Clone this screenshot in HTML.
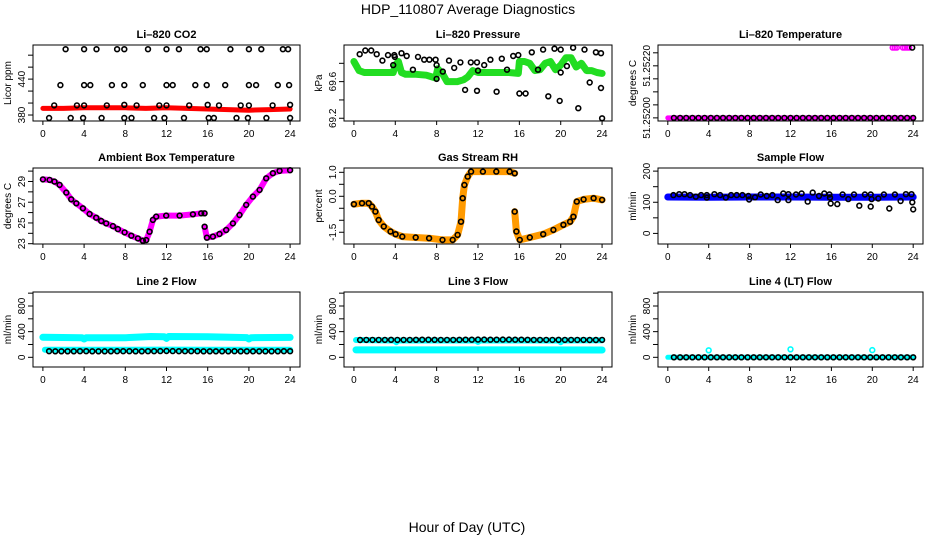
<!DOCTYPE html>
<html><head><meta charset="utf-8"><title>HDP_110807 Average Diagnostics</title>
<style>
html,body{margin:0;padding:0;background:#fff;}
svg{display:block;font-family:"Liberation Sans",sans-serif;}
</style></head>
<body>
<svg id="chart" width="936" height="540" viewBox="0 0 936 540" xmlns="http://www.w3.org/2000/svg">
<text x="468" y="14" text-anchor="middle" font-size="14">HDP_110807  Average Diagnostics</text>
<text x="467" y="532" text-anchor="middle" font-size="14">Hour of Day (UTC)</text>
</svg>
<script>
// ---------- Data ----------
const xTicks = [0,4,8,12,16,20,24];
const xTickLabels = ["0","4","8","12","16","20","24"];

// Panel 1: CO2
const co2BandHours = [0,2,4,6,8,10,12,14,16,18,20,22,24];
const co2BandVals  = [391,391,392,392,392,391,392,391,390,389,388,389,390];
const co2PtHours = [2.2,4.0,5.2,7.2,7.9,10.2,12.0,13.2,15.3,15.9,18.2,20.0,21.2,23.3,23.8,
  1.7,4.0,4.6,6.7,7.9,9.7,12.0,12.6,14.8,15.9,17.7,20.0,20.7,22.8,23.9,
  1.1,3.3,4.0,6.2,7.9,9.1,11.3,12.0,14.2,16.0,17.1,19.2,20.0,22.3,24.0,
  0.6,2.7,3.9,5.7,7.9,8.6,10.8,11.8,13.7,16.1,16.6,18.8,19.9,21.7,24.0];
const co2PtVals = [490,490,490,490,490,490,490,490,490,490,490,490,490,490,490,
  430,430,430,430,430,430,430,430,430,430,430,430,430,430,430,
  396,396,396,396,397,396,396,396,396,397,396,396,396,396,397,
  375,375,375,375,375,375,375,375,375,375,375,375,375,375,375];
const co2Ticks = [380,400,420,440,460,480];
const co2TickLabels = ["380","","","440","",""];

// Panel 2: Pressure
const presBandHours = [0,0.5,1,2,3,3.8,4.0,4.3,4.6,5,6,7,7.9,8.1,8.6,9,10,10.6,11,11.5,12,13,14,15,15.9,16,16.5,17,17.5,18,18.5,19,19.5,20,20.5,21,21.5,22,22.5,23,23.5,24];
const presBandVals = [69.82,69.72,69.70,69.70,69.70,69.70,69.78,69.82,69.70,69.68,69.68,69.67,69.64,69.74,69.68,69.60,69.60,69.62,69.65,69.72,69.70,69.70,69.70,69.70,69.69,69.82,69.82,69.80,69.72,69.73,69.80,69.82,69.73,69.78,69.86,69.86,69.76,69.80,69.72,69.72,69.70,69.69];
const presPtHours = [0.56,1.1,1.67,2.2,2.75,3.3,3.9,3.95,3.8,4.6,5.1,5.7,6.2,6.8,7.3,7.9,8.0,8.0,8.6,9.2,9.7,10.3,10.75,11.3,11.9,11.9,12.0,12.6,13.2,13.8,14.3,14.8,15.4,15.9,16.0,16.6,17.2,17.8,18.3,18.8,19.4,20.0,20.0,19.9,20.6,21.2,21.7,22.3,22.8,23.4,23.9,23.9,24.0];
const presPtVals = [69.90,69.94,69.94,69.90,69.83,69.89,69.89,69.87,69.78,69.91,69.88,69.73,69.87,69.84,69.84,69.84,69.78,69.63,69.71,69.83,69.75,69.81,69.51,69.81,69.81,69.50,69.72,69.78,69.84,69.49,69.85,69.73,69.88,69.89,69.47,69.47,69.92,69.73,69.95,69.44,69.96,69.95,69.70,69.39,69.77,69.97,69.31,69.95,69.59,69.92,69.91,69.53,69.20];
const presTicks = [69.2,69.4,69.6,69.8];
const presTickLabels = ["69.2","","69.6",""];

// Panel 3: Li-820 temperature
const ltBandHours = [0,24];
const ltBandVals = [51.252,51.252];
const ltTopHours = [22.0,22.2,22.4,23.0,23.2,23.4,23.6];
const ltTopVals = [51.25227,51.25227,51.25227,51.25227,51.25227,51.25227,51.25227];
const rowHours = [0.6,1.2,1.8,2.4,3.0,3.6,4.2,4.8,5.4,6.0,6.6,7.2,7.8,8.4,9.0,9.6,10.2,10.8,11.4,12.0,12.6,13.2,13.8,14.4,15.0,15.6,16.2,16.8,17.4,18.0,18.6,19.2,19.8,20.4,21.0,21.6,22.2,22.8,23.4,24.0];
const ltBlackVals = [51.252,51.252,51.252,51.252,51.252,51.252,51.252,51.252,51.252,51.252,51.252,51.252,51.252,51.252,51.252,51.252,51.252,51.252,51.252,51.252,51.252,51.252,51.252,51.252,51.252,51.252,51.252,51.252,51.252,51.252,51.252,51.252,51.252,51.252,51.252,51.252,51.252,51.252,51.252,51.252];
const ltExtraHours = [23.9];
const ltExtraVals = [51.25227];
const ltTicks = [51.25200,51.25205,51.25210,51.25215,51.25220,51.25225];
const ltTickLabels = ["51.25200","","","","51.25220",""];

// Panel 4: Ambient box temperature (null = gap)
const ambHours = [0,0.65,1.13,1.62,2.27,2.75,3.24,3.88,4.53,5.18,5.66,6.15,6.8,7.28,7.93,8.58,9.22,9.71,10.03,10.36,10.68,11.0,11.97,13.27,14.56,15.37,15.7,null,15.7,15.92,16.5,17.15,17.8,18.45,19.09,19.74,20.39,21.04,21.68,22.33,22.98,24.0];
const ambVals = [29.2,29.15,28.99,28.67,27.93,27.28,26.9,26.41,25.86,25.51,25.19,24.96,24.7,24.41,24.09,23.77,23.51,23.29,23.35,24.16,25.29,25.61,25.71,25.71,25.83,25.93,25.93,null,24.64,23.58,23.68,23.93,24.32,24.96,25.77,26.74,27.54,28.19,29.31,29.8,30.02,30.09];
const ambTicks = [23,24,25,26,27,28,29,30];
const ambTickLabels = ["23","","25","","27","","29",""];

// Panel 5: Gas stream RH
const rhHours = [0,0.78,1.43,1.75,2.08,2.4,2.89,3.54,4.03,4.68,5.97,7.27,8.57,9.55,10.03,10.36,10.52,10.68,11.0,11.33,12.47,13.77,15.06,15.55,null,15.55,15.71,16.04,17.01,18.31,19.29,20.26,20.91,21.23,21.56,22.21,23.18,24.0];
const rhVals = [-0.33,-0.29,-0.29,-0.43,-0.64,-0.99,-1.26,-1.47,-1.58,-1.68,-1.72,-1.75,-1.82,-1.82,-1.61,-1.06,-0.08,0.47,0.82,1.03,1.03,1.03,1.03,0.96,null,-0.64,-1.47,-1.82,-1.72,-1.58,-1.40,-1.19,-1.06,-0.85,-0.22,-0.13,-0.08,-0.15];
const rhTicks = [-1.5,-1.0,-0.5,0.0,0.5,1.0];
const rhTickLabels = ["-1.5","","","0.0","","1.0"];

// Panel 6: Sample flow
const sfBandHours = [0,4,8,12,16,20,24];
const sfBandVals = [117,116,117,117,116,116,117];
const sfPtHours = [0.55,1.11,1.63,2.18,2.74,3.26,3.81,3.81,4.56,5.11,5.67,6.19,6.74,7.3,7.88,7.95,8.53,9.09,9.67,10.23,10.75,11.3,11.79,11.79,12.54,13.09,13.68,14.17,14.79,15.31,15.8,15.86,15.93,16.58,17.1,17.65,18.21,18.73,19.28,19.84,19.84,19.93,20.59,21.14,21.66,22.21,22.77,23.29,23.84,23.91,24.0];
const sfPtVals = [123,126,126,123,118,123,123,115,126,123,115,123,123,123,120,109,116,125,120,123,107,128,126,107,125,128,102,131,120,128,125,115,96,94,125,110,125,89,125,125,86,110,112,125,80,125,104,126,126,100,77];
const sfTicks = [0,50,100,150,200];
const sfTickLabels = ["0","","100","","200"];

// Row 3: Line flows
const flowTicks = [0,200,400,600,800,1000];
const flowTickLabels = ["0","","400","","800",""];
const l2TopHours = [0,3.8,4,4.2,8,10.5,11.8,12,12.2,16,19.8,20,20.2,24];
const l2TopVals = [312,305,285,305,305,325,320,295,325,320,308,285,305,310];
const l2LowHours = [0.2,8,12,16,24];
const l2LowVals = [118,118,120,118,117];
const l2Black = [95,94,94,93,94,95,96,94,93,94,94,95,95,96,94,94,95,96,97,98,97,96,96,95,95,94,94,93,94,94,95,94,94,93,94,94,93,94,95,96];
const l3TopHours = [0.2,3.9,4.1,4.3,11.8,12,12.2,19.8,20,20.2,24];
const l3TopVals = [270,262,235,262,262,240,262,262,235,262,265];
const l3LowHours = [0.2,8,12,16,24];
const l3LowVals = [115,116,115,115,114];
const l3Black = [270,271,272,271,272,273,272,271,272,273,274,274,273,272,271,272,273,274,275,276,276,275,275,276,276,275,274,273,272,272,271,272,273,272,271,272,271,270,270,271];
const l4BandHours = [0,24];
const l4BandVals = [0,0];
const l4CircHours = [4,12,20];
const l4CircVals = [110,125,112];
const l4Black = [0,0,0,0,0,0,0,0,0,0,0,0,0,0,0,0,0,0,0,0,0,0,0,0,0,0,0,0,0,0,0,0,0,0,0,0,0,0,0,0];

// ---------- Layout ----------
const NS = "http://www.w3.org/2000/svg";
const svg = document.getElementById('chart');
const cols = [[33,300],[344,612],[658,923]];
const rows = [[45,121],[168,244],[292,367]];

function mk(tag, attrs, parent){
  const e = document.createElementNS(NS, tag);
  for (const k in attrs) e.setAttribute(k, attrs[k]);
  (parent||svg).appendChild(e);
  return e;
}

function panel(ci, ri, cfg){
  const [x0,x1] = cols[ci], [y0,y1] = rows[ri];
  const g = mk('g', {});
  
  
  const w = x1-x0;
  const pad = w*0.04/1.08;
  const xs = h => x0 + pad + (h/24)*(w-2*pad);
  const ys = v => y1 - (v-cfg.ymin)/(cfg.ymax-cfg.ymin)*(y1-y0);
  const t = mk('text', {x:(x0+x1)/2, y:y0-7, 'text-anchor':'middle', 'font-size':11, 'font-weight':'bold'}, g);
  
  
  t.textContent = cfg.title;
  const yl = mk('text', {x:0, y:0, 'text-anchor':'middle', 'font-size':10, transform:`translate(${x0-22},${(y0+y1)/2}) rotate(-90)`}, g);
  
  
  yl.textContent = cfg.ylab;
  const mg = mk('g', {}, g);
  
  
  (cfg.bands||[]).forEach(b => {
    let d = '', pen = false;
    for (let i=0;i<b.h.length;i++){
      if (b.h[i]===null){pen=false;continue;}
      d += (pen?'L':'M') + xs(b.h[i]).toFixed(1) + ' ' + ys(b.v[i]).toFixed(1) + ' ';
      pen = true;
    }
    const p = mk('path', {d, fill:'none', stroke:b.c, 'stroke-width':b.w||6, 'stroke-linecap':'round', 'stroke-linejoin':'round'}, mg);
    
    
  });
  (cfg.pts||[]).forEach(s => {
    for (let i=0;i<s.h.length;i++){
      if (s.h[i]===null) continue;
      const c = mk('circle', {cx:xs(s.h[i]).toFixed(1), cy:ys(s.v[i]).toFixed(1), r:s.r||2.4, fill:'none', stroke:s.c||'#000', 'stroke-width':1.6}, mg);
      
      
    }
  });
  const box = mk('rect', {x:x0, y:y0, width:w, height:y1-y0, fill:'none', stroke:'#000', 'stroke-width':1}, g);
  
  
  const xa = mk('g', {}, g);
  
  
  xTicks.forEach((h,i) => {
    const X = xs(h);
    const tk = mk('line', {x1:X, x2:X, y1:y1, y2:y1+4, stroke:'#000'}, xa);
    
    
    const tl = mk('text', {x:X, y:y1+16, 'text-anchor':'middle', 'font-size':10}, xa);
    
    
    tl.textContent = xTickLabels[i];
  });
  const ya = mk('g', {}, g);
  
  
  cfg.ticks.forEach((v,i) => {
    const Y = ys(v);
    const tk = mk('line', {x1:x0-5, x2:x0, y1:Y, y2:Y, stroke:'#000'}, ya);
    
    
    if (cfg.labels[i]){
      const tl = mk('text', {x:0, y:0, 'text-anchor':'middle', 'font-size':10, transform:`translate(${x0-8},${Y.toFixed(1)}) rotate(-90)`}, ya);
      
      
      tl.textContent = cfg.labels[i];
    }
  });
}

panel(0,0,{name:'co2', title:'Li\u2013820 CO2', ylab:'Licor ppm', ymin:370, ymax:497, ticks:co2Ticks, labels:co2TickLabels,
  bands:[{h:co2BandHours, v:co2BandVals, c:'#ff0000', w:5, n:'co2-average-band'}],
  pts:[{h:co2PtHours, v:co2PtVals, n:'co2-point'}]});
panel(1,0,{name:'pressure', title:'Li\u2013820 Pressure', ylab:'kPa', ymin:69.17, ymax:70.0, ticks:presTicks, labels:presTickLabels,
  bands:[{h:presBandHours, v:presBandVals, c:'#22dd22', w:7, n:'pressure-average-band'}],
  pts:[{h:presPtHours, v:presPtVals, n:'pressure-point'}]});
panel(2,0,{name:'li820-temp', title:'Li\u2013820 Temperature', ylab:'degrees C', ymin:51.251988, ymax:51.25228, ticks:ltTicks, labels:ltTickLabels,
  bands:[{h:ltBandHours, v:ltBandVals, c:'#ff00ff', w:5, n:'li820-temp-band'}],
  pts:[{h:ltTopHours, v:ltTopVals, c:'#ff00ff', n:'li820-temp-high-point'},{h:rowHours, v:ltBlackVals, n:'li820-temp-point'},{h:ltExtraHours, v:ltExtraVals, n:'li820-temp-point'}]});
panel(0,1,{name:'ambient', title:'Ambient Box Temperature', ylab:'degrees C', ymin:22.97, ymax:30.3, ticks:ambTicks, labels:ambTickLabels,
  bands:[{h:ambHours, v:ambVals, c:'#ff00ff', w:6, n:'ambient-temp-band'}],
  pts:[{h:ambHours, v:ambVals, n:'ambient-temp-point'}]});
panel(1,1,{name:'rh', title:'Gas Stream RH', ylab:'percent', ymin:-1.99, ymax:1.18, ticks:rhTicks, labels:rhTickLabels,
  bands:[{h:rhHours, v:rhVals, c:'#ff9a00', w:7, n:'rh-band'}],
  pts:[{h:rhHours, v:rhVals, n:'rh-point'}]});
panel(2,1,{name:'sample-flow', title:'Sample Flow', ylab:'ml/min', ymin:-34, ymax:210, ticks:sfTicks, labels:sfTickLabels,
  bands:[{h:sfBandHours, v:sfBandVals, c:'#0000ff', w:7, n:'sample-flow-band'}],
  pts:[{h:sfPtHours, v:sfPtVals, n:'sample-flow-point'}]});
panel(0,2,{name:'line2', title:'Line 2 Flow', ylab:'ml/min', ymin:-151, ymax:1018, ticks:flowTicks, labels:flowTickLabels,
  bands:[{h:l2TopHours, v:l2TopVals, c:'#00ffff', w:7, n:'line2-upper-band'},{h:l2LowHours, v:l2LowVals, c:'#00ffff', w:6, n:'line2-lower-band'}],
  pts:[{h:rowHours, v:l2Black, n:'line2-point'}]});
panel(1,2,{name:'line3', title:'Line 3 Flow', ylab:'ml/min', ymin:-151, ymax:1018, ticks:flowTicks, labels:flowTickLabels,
  bands:[{h:l3TopHours, v:l3TopVals, c:'#00ffff', w:6, n:'line3-upper-band'},{h:l3LowHours, v:l3LowVals, c:'#00ffff', w:7, n:'line3-lower-band'}],
  pts:[{h:rowHours, v:l3Black, n:'line3-point'}]});
panel(2,2,{name:'line4', title:'Line 4 (LT) Flow', ylab:'ml/min', ymin:-151, ymax:1018, ticks:flowTicks, labels:flowTickLabels,
  bands:[{h:l4BandHours, v:l4BandVals, c:'#00ffff', w:5, n:'line4-band'}],
  pts:[{h:l4CircHours, v:l4CircVals, c:'#00ffff', n:'line4-spike-point'},{h:rowHours, v:l4Black, n:'line4-point'}]});
</script>
</body></html>
